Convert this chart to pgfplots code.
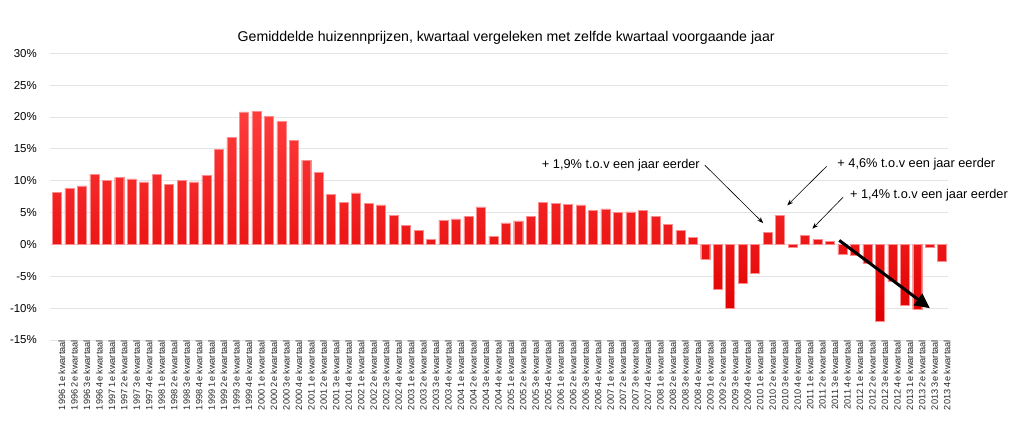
\documentclass[border=0pt]{standalone}
\usepackage{pgfplots}
\pgfplotsset{compat=1.18}
\usepackage{pgfplotstable}
\usepackage{fontspec}
\setmainfont{Liberation Sans}
\usetikzlibrary{arrows.meta}
\definecolor{bartop}{RGB}{255,60,60}
\definecolor{barbot}{RGB}{225,0,0}
\definecolor{baredge}{RGB}{255,140,140}
\definecolor{gridc}{RGB}{228,228,228}
\pgfplotstableread{
x y
0 8.2
1 8.8
2 9.2
3 11.0
4 10.1
5 10.5
6 10.3
7 9.8
8 11.0
9 9.4
10 10.1
11 9.8
12 10.8
13 14.9
14 16.8
15 20.8
16 20.9
17 20.1
18 19.3
19 16.3
20 13.2
21 11.3
22 7.9
23 6.6
24 8.1
25 6.5
26 6.2
27 4.6
28 3.0
29 2.2
30 0.8
31 3.8
32 4.0
33 4.4
34 5.9
35 1.3
36 3.4
37 3.7
38 4.4
39 6.6
40 6.4
41 6.3
42 6.2
43 5.3
44 5.6
45 5.0
46 5.1
47 5.3
48 4.4
49 3.1
50 2.2
51 1.1
52 -2.3
53 -7.1
54 -10.0
55 -6.1
56 -4.5
57 1.9
58 4.6
59 -0.4
60 1.4
61 0.8
62 0.5
63 -1.5
64 -1.7
65 -3.0
66 -12.1
67 -5.8
68 -9.5
69 -10.2
70 -0.5
71 -2.7
}\prijzen
\begin{document}
\begin{tikzpicture}
\useasboundingbox (-50bp,-91bp) rectangle (972bp,340bp);
\begin{axis}[
  at={(0,0)}, anchor=south west,
  width=898bp, height=286.7bp, scale only axis,
  xmin=-0.55, xmax=71.47,
  ymin=-15, ymax=30,
  clip=false,
  axis line style={draw=none},
  major tick length=0pt,
  ymajorgrids, major grid style={gridc, line width=0.8bp},
  ytick={-15,-10,...,30},
  yticklabels={-15\%,-10\%,-5\%,0\%,5\%,10\%,15\%,20\%,25\%,30\%},
  yticklabel style={font=\fontsize{11.5}{12}\selectfont, inner sep=0pt, anchor=east, xshift=-13bp},
  xtick={0,...,71},
  xticklabels={
1996 1e kwartaal,1996 2e kwartaal,1996 3e kwartaal,1996 4e kwartaal,
1997 1e kwartaal,1997 2e kwartaal,1997 3e kwartaal,1997 4e kwartaal,
1998 1e kwartaal,1998 2e kwartaal,1998 3e kwartaal,1998 4e kwartaal,
1999 1e kwartaal,1999 2e kwartaal,1999 3e kwartaal,1999 4e kwartaal,
2000 1e kwartaal,2000 2e kwartaal,2000 3e kwartaal,2000 4e kwartaal,
2001 1e kwartaal,2001 2e kwartaal,2001 3e kwartaal,2001 4e kwartaal,
2002 1e kwartaal,2002 2e kwartaal,2002 3e kwartaal,2002 4e kwartaal,
2003 1e kwartaal,2003 2e kwartaal,2003 3e kwartaal,2003 4e kwartaal,
2004 1e kwartaal,2004 2e kwartaal,2004 3e kwartaal,2004 4e kwartaal,
2005 1e kwartaal,2005 2e kwartaal,2005 3e kwartaal,2005 4e kwartaal,
2006 1e kwartaal,2006 2e kwartaal,2006 3e kwartaal,2006 4e kwartaal,
2007 1e kwartaal,2007 2e kwartaal,2007 3e kwartaal,2007 4e kwartaal,
2008 1e kwartaal,2008 2e kwartaal,2008 3e kwartaal,2008 4e kwartaal,
2009 1e kwartaal,2009 2e kwartaal,2009 3e kwartaal,2009 4e kwartaal,
2010 1e kwartaal,2010 2e kwartaal,2010 3e kwartaal,2010 4e kwartaal,
2011 1e kwartaal,2011 2e kwartaal,2011 3e kwartaal,2011 4e kwartaal,
2012 1e kwartaal,2012 2e kwartaal,2012 3e kwartaal,2012 4e kwartaal,
2013 1e kwartaal,2013 2e kwartaal,2013 3e kwartaal,2013 4e kwartaal},
  xticklabel style={font=\fontsize{9.2}{10}\selectfont, rotate=90, anchor=east, inner sep=0pt, yshift=-5bp, text=black!85},
]
\addplot[ybar, bar width=9bp, top color=bartop, bottom color=barbot, draw=baredge, line width=0.4bp] table[x=x,y=y]{\prijzen};
\node[anchor=base, font=\fontsize{14.2}{15}\selectfont] at (rel axis cs:0.508,1) [yshift=12bp] {Gemiddelde huizennprijzen, kwartaal vergeleken met zelfde kwartaal voorgaande jaar};
\node[anchor=west, inner sep=0pt, font=\fontsize{12.8}{14}\selectfont] at (axis cs:38.89,12.43) {+ 1,9\% t.o.v een jaar eerder};
\node[anchor=west, inner sep=0pt, font=\fontsize{12.8}{14}\selectfont] at (axis cs:62.59,12.54) {+ 4,6\% t.o.v een jaar eerder};
\node[anchor=west, inner sep=0pt, font=\fontsize{12.8}{14}\selectfont] at (axis cs:63.6,7.71) {+ 1,4\% t.o.v een jaar eerder};
\draw[-{Stealth[length=6bp,width=4.5bp]}, line width=0.6bp] (axis cs:51.97,12.43) -- (axis cs:56.65,3.35);
\draw[-{Stealth[length=6bp,width=4.5bp]}, line width=0.6bp] (axis cs:61.74,12.27) -- (axis cs:58.58,6.13);
\draw[-{Stealth[length=6bp,width=4.5bp]}, line width=0.6bp] (axis cs:63.07,7.44) -- (axis cs:60.59,2.47);
\draw[-{Triangle[length=15bp,width=14bp]}, line width=3bp] (axis cs:62.75,0.63) -- (axis cs:70.02,-10.02);
\end{axis}
\end{tikzpicture}
\end{document}
